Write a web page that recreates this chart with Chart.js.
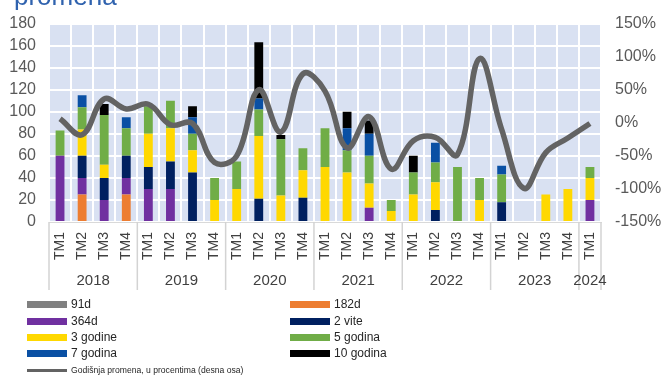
<!DOCTYPE html>
<html>
<head>
<meta charset="utf-8">
<script src="https://cdn.jsdelivr.net/npm/chart.js@4.4.1/dist/chart.umd.min.js"></script>
<style>
  html, body { margin: 0; padding: 0; background: #fff; }
  #wrap { position: relative; width: 663px; height: 375px; overflow: hidden; font-family: 'Liberation Sans', Arial, sans-serif; }
  #naslov { position: absolute; left: 14px; top: -17px; font-size: 26px; line-height: 26px; color: #2f62ae; }
  #legenda .stavka { position: absolute; height: 14px; font-size: 12px; line-height: 14px; color: #262626; white-space: nowrap; }
  #legenda .boja { position: absolute; left: 0; width: 40px; }
  #legenda .tekst { position: absolute; left: 44px; top: 0; }
</style>
</head>
<body>
<div id="wrap">
  <canvas id="grafikon" width="663" height="375"></canvas>
  <div id="naslov">promena</div>
  <div id="legenda"></div>
</div>
<script>
// Kvartali i godine
const kvartali = ['TM1', 'TM2', 'TM3', 'TM4', 'TM1', 'TM2', 'TM3', 'TM4', 'TM1', 'TM2', 'TM3', 'TM4',
                  'TM1', 'TM2', 'TM3', 'TM4', 'TM1', 'TM2', 'TM3', 'TM4', 'TM1', 'TM2', 'TM3', 'TM4', 'TM1'];
const godine = ['2018', '2019', '2020', '2021', '2022', '2023', '2024'];
const kvartalaPoGodini = [4, 4, 4, 4, 4, 4, 1];

// Emisije po rocnosti (leva osa)
const d91 = [0, 0, 0, 0, 0, 0, 0, 0, 0, 0, 0, 0, 0, 0, 0, 0, 0, 0, 0, 0, 0, 0, 0, 0, 0];
const d182 = [0, 25, 0, 25, 0, 0, 0, 0, 0, 0, 0, 0, 0, 0, 0, 0, 0, 0, 0, 0, 0, 0, 0, 0, 0];
const d364 = [60, 15, 20, 15, 30, 30, 0, 0, 0, 0, 0, 0, 0, 0, 13, 0, 0, 0, 0, 0, 0, 0, 0, 0, 20];
const vite2 = [0, 20, 20, 20, 20, 25, 45, 0, 0, 21, 0, 22, 0, 0, 0, 0, 0, 11, 0, 0, 18, 0, 0, 0, 0];
const godine3 = [0, 24, 12, 0, 30, 30, 20, 20, 30, 57, 24, 25, 50, 45, 22, 10, 25, 25, 0, 20, 0, 0, 25, 30, 20];
const godina5 = [23, 20, 45, 25, 25, 25, 15, 20, 25, 24, 51, 20, 35, 20, 25, 10, 20, 18, 50, 20, 25, 0, 0, 0, 10];
const godina7 = [0, 11, 0, 10, 0, 0, 15, 0, 0, 10, 0, 0, 0, 20, 20, 0, 0, 18, 0, 0, 8, 0, 0, 0, 0];
const godina10 = [0, 0, 10, 0, 0, 0, 10, 0, 0, 51, 4, 0, 0, 15, 12, 0, 15, 0, 0, 0, 0, 0, 0, 0, 0];

// Godisnja promena u % (desna osa)
const promena = [6, -18, 36, 21, 28, -3, -1, -60, -50, 50, -14, 74, 48, -38, 9, -70,
                 -27, -22, -48, 97, -10, -99, -45, -23, -1];

const leviTikovi = [0, 20, 40, 60, 80, 100, 120, 140, 160, 180];
const desniTikovi = [-150, -100, -50, 0, 50, 100, 150];

const serije = [
    { naziv: '91d', podaci: d91, boja: '#808080' },
    { naziv: '182d', podaci: d182, boja: '#ed7d31' },
    { naziv: '364d', podaci: d364, boja: '#7030a0' },
    { naziv: '2 vite', podaci: vite2, boja: '#002060' },
    { naziv: '3 godine', podaci: godine3, boja: '#ffd800' },
    { naziv: '5 godina', podaci: godina5, boja: '#70ad47' },
    { naziv: '7 godina', podaci: godina7, boja: '#0a50a4' },
    { naziv: '10 godina', podaci: godina10, boja: '#000000' }
];
const linijaNaziv = 'Godišnja promena, u procentima (desna osa)';
const linijaBoja = '#636363';

const font = "'Liberation Sans', Arial, sans-serif";

// Pozadina oblasti crtanja
const pozadina = {
    id: 'pozadina',
    beforeDraw(chart) {
        const a = chart.chartArea;
        const c = chart.ctx;
        c.save();
        c.fillStyle = '#d9e1f2';
        c.fillRect(a.left, a.top, a.right - a.left, a.bottom - a.top);
        c.restore();
    }
};

// Godine ispod kvartala i razdelnici grupa
const godineOsa = {
    id: 'godineOsa',
    afterDraw(chart) {
        const x = chart.scales.x;
        const c = chart.ctx;
        const pola = (x.getPixelForValue(1) - x.getPixelForValue(0)) / 2;
        const vrh = chart.chartArea.bottom;
        c.save();
        c.strokeStyle = '#d3d3d3';
        c.lineWidth = 1.5;
        c.fillStyle = '#404040';
        c.font = '15px ' + font;
        c.textAlign = 'center';
        c.textBaseline = 'middle';
        let i = 0;
        godine.forEach((g, k) => {
            const n = kvartalaPoGodini[k];
            const levo = x.getPixelForValue(i) - pola;
            const desno = x.getPixelForValue(i + n - 1) + pola;
            c.beginPath();
            c.moveTo(levo, vrh);
            c.lineTo(levo, vrh + 68);
            c.stroke();
            if (k === godine.length - 1) {
                c.beginPath();
                c.moveTo(desno, vrh);
                c.lineTo(desno, vrh + 68);
                c.stroke();
            }
            c.fillText(g, (levo + desno) / 2, vrh + 59);
            i += n;
        });
        c.restore();
    }
};

const datasets = serije.map(s => ({
    type: 'bar',
    label: s.naziv,
    data: s.podaci,
    backgroundColor: s.boja,
    borderWidth: 0,
    yAxisID: 'y',
    stack: 'emisije',
    order: 1,
    barPercentage: 0.4,
    categoryPercentage: 1
}));

datasets.push({
    type: 'line',
    label: linijaNaziv,
    data: promena,
    borderColor: linijaBoja,
    borderWidth: 5.5,
    pointRadius: 0,
    tension: 0.4,
    fill: false,
    yAxisID: 'y1',
    order: 0
});

const chart = new Chart(document.getElementById('grafikon').getContext('2d'), {
    data: { labels: kvartali, datasets: datasets },
    options: {
        responsive: false,
        animation: false,
        layout: { padding: { top: 19, bottom: 80, left: 0, right: 0 } },
        plugins: {
            legend: { display: false },
            tooltip: { enabled: false }
        },
        scales: {
            x: {
                stacked: true,
                afterFit: s => { s.height = 73; },
                grid: { color: '#ffffff', lineWidth: 2, drawTicks: false, offset: true },
                border: { color: '#d9d9d9', width: 1 },
                ticks: {
                    autoSkip: false,
                    minRotation: 90,
                    maxRotation: 90,
                    padding: 10,
                    color: '#404040',
                    font: { size: 14, family: font }
                }
            },
            y: {
                position: 'left',
                stacked: true,
                min: 0,
                max: 180,
                afterFit: s => { s.width = 49; },
                afterBuildTicks: s => { s.ticks = leviTikovi.map(v => ({ value: v })); },
                grid: { color: '#ffffff', lineWidth: 2, drawTicks: false },
                border: { display: false },
                ticks: {
                    autoSkip: false,
                    padding: 13,
                    color: '#595959',
                    font: { size: 16, family: font }
                }
            },
            y1: {
                position: 'right',
                stacked: false,
                min: -150,
                max: 150,
                afterFit: s => { s.width = 62; },
                afterBuildTicks: s => { s.ticks = desniTikovi.map(v => ({ value: v })); },
                grid: { display: false, drawTicks: false },
                border: { display: false },
                ticks: {
                    autoSkip: false,
                    padding: 14,
                    color: '#595959',
                    font: { size: 16, family: font },
                    callback: v => v + '%'
                }
            }
        }
    },
    plugins: [pozadina, godineOsa]
});

// Legenda u dve kolone
const legenda = document.getElementById('legenda');
const redovi = [304, 320.5, 337, 353.4];
serije.forEach((s, i) => {
    const red = Math.floor(i / 2);
    const kol = i % 2;
    const el = document.createElement('div');
    el.className = 'stavka';
    el.style.left = (kol === 0 ? 27 : 290) + 'px';
    el.style.top = (redovi[red] - 7) + 'px';
    el.innerHTML = '<span class="boja" style="top:4px;height:7px;background:' + s.boja + '"></span>' +
        '<span class="tekst">' + s.naziv + '</span>';
    legenda.appendChild(el);
});
const lin = document.createElement('div');
lin.className = 'stavka';
lin.style.left = '27px';
lin.style.top = '363px';
lin.style.fontSize = '8.6px';
lin.innerHTML = '<span class="boja" style="top:6px;height:3px;background:' + linijaBoja + '"></span>' +
    '<span class="tekst">' + linijaNaziv + '</span>';
legenda.appendChild(lin);
</script>
</body>
</html>
